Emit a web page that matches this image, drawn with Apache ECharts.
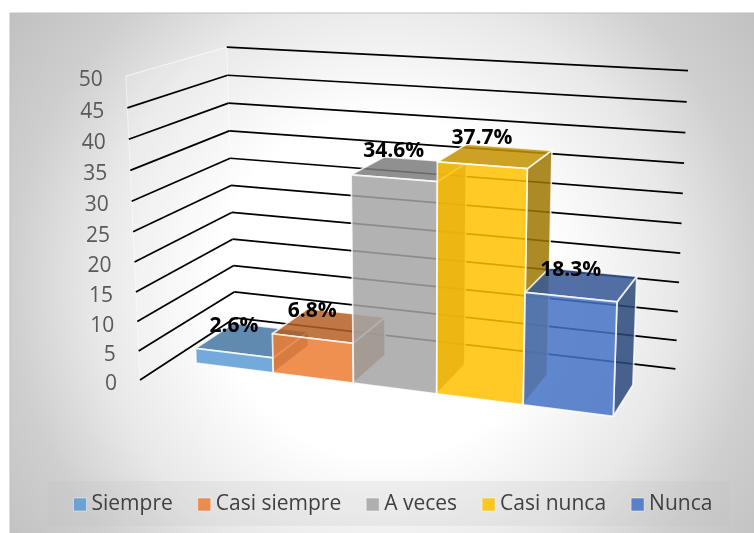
<!DOCTYPE html>
<html>
<head>
<meta charset="utf-8">
<style>
  html, body { margin: 0; padding: 0; background: #fff; }
  #main { width: 754px; height: 533px; }
</style>
<script src="https://cdn.jsdelivr.net/npm/echarts@6/dist/echarts.min.js"></script>
</head>
<body>
<div id="main"></div>
<script>
const categories = ['Siempre', 'Casi siempre', 'A veces', 'Casi nunca', 'Nunca'];
const values = [2.6, 6.8, 34.6, 37.7, 18.3];
const colors = ['#5B9BD5', '#ED7D31', '#A5A5A5', '#FFC000', '#4472C4'];
const yTicks = [0, 5, 10, 15, 20, 25, 30, 35, 40, 45, 50];

const FONT = '"Open Sans", "Noto Sans", sans-serif';

// box space -> screen, x/y/z run 0..1 (z goes from the front to the back wall)
function project(x, y, z) {
  const w = 1 - 0.10747 * x - 0.04807 * y + 0.1272 * z;
  return [
    (140 + 423.8 * x - 20.19 * y + 124.9 * z) / w,
    (380 + 17.84 * x - 307.6 * y - 21.6 * z) / w
  ];
}

// where the bars sit inside the box
const BAND_LEFT = 0.0587, BAND_SPAN = 0.879;
const Z_FRONT = 0.3, Z_BACK = 0.715;

function boxX(px, sys) { return BAND_LEFT + (px - sys.x) / sys.width * BAND_SPAN; }
function boxY(py, sys) { return (sys.y + sys.height - py) / sys.height; }

function shade(hex, f, a) {
  const n = parseInt(hex.slice(1), 16);
  return 'rgba(' + Math.round((n >> 16) * f) + ',' + Math.round(((n >> 8) & 255) * f) + ',' + Math.round((n & 255) * f) + ',' + a + ')';
}

function face(pts, fill, stroke) {
  return {
    type: 'polygon',
    shape: { points: pts },
    style: { fill: fill, stroke: stroke || 'none', lineWidth: 1.7, lineJoin: 'round' }
  };
}

// only right, top and front faces: the darker strips in a bar are its
// left neighbour's side showing through
function renderBar(params, api) {
  const sys = params.coordSys;
  const i = api.value(0);
  const band = api.size([1, 0])[0];
  const base = api.coord([i, 0]);
  const top = api.coord([i, api.value(1)]);
  const x0 = boxX(base[0] - band / 2, sys);
  const x1 = boxX(base[0] + band / 2, sys);
  const y = boxY(top[1], sys);
  const c = colors[i];
  const edge = 'rgba(255,255,255,0.8)';
  return {
    type: 'group',
    children: [
      face([project(x1, 0, Z_FRONT), project(x1, 0, Z_BACK), project(x1, y, Z_BACK), project(x1, y, Z_FRONT)], shade(c, 0.62, 0.85), edge),
      face([project(x0, y, Z_FRONT), project(x1, y, Z_FRONT), project(x1, y, Z_BACK), project(x0, y, Z_BACK)], shade(c, 0.76, 0.85), edge),
      face([project(x0, 0, Z_FRONT), project(x1, 0, Z_FRONT), project(x1, y, Z_FRONT), project(x0, y, Z_FRONT)], shade(c, 1, 0.85), edge)
    ]
  };
}

function renderGridLine(params, api) {
  const sys = params.coordSys;
  const v = api.value(1);
  const y = boxY(api.coord([0, v])[1], sys);
  const a = project(0, y, 0), b = project(0, y, 1), c = project(1, y, 1);
  return {
    type: 'group',
    children: [
      { type: 'line', shape: { x1: a[0], y1: a[1], x2: b[0], y2: b[1] },
        style: { stroke: v === 50 ? 'rgba(255,255,255,0.7)' : '#000', lineWidth: v === 50 ? 1 : 1.7 } },
      { type: 'line', shape: { x1: b[0], y1: b[1], x2: c[0], y2: c[1] },
        style: { stroke: '#000', lineWidth: 1.7 } },
      { type: 'text',
        style: { text: String(v), x: a[0] - 23, y: a[1] + 4, align: 'right', verticalAlign: 'middle',
          fill: '#595959', font: '21px ' + FONT } }
    ]
  };
}

function renderWalls(params, api) {
  const edge = 'rgba(255,255,255,0.55)';
  const corners = [[0, 0], [0, 1]];
  return {
    type: 'group',
    children: [
      face([project(0, 0, 0), project(0, 0, 1), project(0, 1, 1), project(0, 1, 0)], 'rgba(255,255,255,0.14)')
    ].concat(corners.map(function (p) {
      const a = project(p[0], 0, p[1]), b = project(p[0], 1, p[1]);
      return { type: 'line', shape: { x1: a[0], y1: a[1], x2: b[0], y2: b[1] },
        style: { stroke: edge, lineWidth: 1 } };
    }))
  };
}

function renderLabel(params, api) {
  const sys = params.coordSys;
  const i = api.value(0);
  const base = api.coord([i, 0]);
  const top = api.coord([i, api.value(1)]);
  const p = project(boxX(base[0], sys), boxY(top[1], sys), Z_FRONT);
  return {
    type: 'text',
    style: { text: api.value(1).toFixed(1) + '%', x: p[0], y: p[1] - 27, align: 'center', verticalAlign: 'middle',
      fill: '#000', font: 'bold 21px ' + FONT }
  };
}

const chart = echarts.init(document.getElementById('main'), null, { renderer: 'canvas' });

const barSeries = categories.map(function (name, i) {
  return {
    type: 'custom',
    name: name,
    z: 3,
    silent: true,
    renderItem: renderBar,
    itemStyle: { color: colors[i] },
    encode: { x: 0, y: 1 },
    data: [[i, values[i]]]
  };
});

chart.setOption({
  animation: false,
  graphic: [{
    type: 'rect',
    z: -10,
    silent: true,
    shape: { x: 10, y: 13, width: 750, height: 526 },
    style: {
      stroke: '#bfbfbf',
      lineWidth: 1,
      fill: new echarts.graphic.RadialGradient(0.5, 0.52, 0.92, [
        { offset: 0, color: '#ffffff' },
        { offset: 0.35, color: '#ffffff' },
        { offset: 0.6, color: '#e8e8e8' },
        { offset: 0.77, color: '#cfcfcf' },
        { offset: 1, color: '#bdbdbd' }
      ])
    }
  }],
  grid: { left: 60, right: 60, top: 60, bottom: 100, show: false },
  xAxis: { type: 'category', data: categories, show: false },
  yAxis: { type: 'value', min: 0, max: 50, interval: 5, show: false },
  legend: {
    left: 48,
    top: 481,
    padding: [13, 17, 11, 25],
    backgroundColor: 'rgba(190,190,190,0.2)',
    itemGap: 24.5,
    itemWidth: 13,
    itemHeight: 13,
    icon: 'rect',
    data: categories.map(function (name, i) {
      return { name: name, itemStyle: { color: shade(colors[i], 1, 0.85), borderColor: 'rgba(255,255,255,0.45)', borderWidth: 1 } };
    }),
    textStyle: { color: '#404040', fontSize: 21, fontFamily: FONT, padding: [0, 0, 0, 0] }
  },
  series: [
    { type: 'custom', name: 'paredes', z: 1, silent: true, renderItem: renderWalls, encode: { x: 0, y: 1 }, data: [[0, 0]] },
    { type: 'custom', name: 'rejilla', z: 2, silent: true, renderItem: renderGridLine, encode: { x: 0, y: 1 },
      data: yTicks.map(function (v) { return [0, v]; }) }
  ].concat(barSeries).concat([
    { type: 'custom', name: 'etiquetas', z: 5, silent: true, renderItem: renderLabel, encode: { x: 0, y: 1 },
      data: values.map(function (v, i) { return [i, v]; }) }
  ])
});
</script>
</body>
</html>
